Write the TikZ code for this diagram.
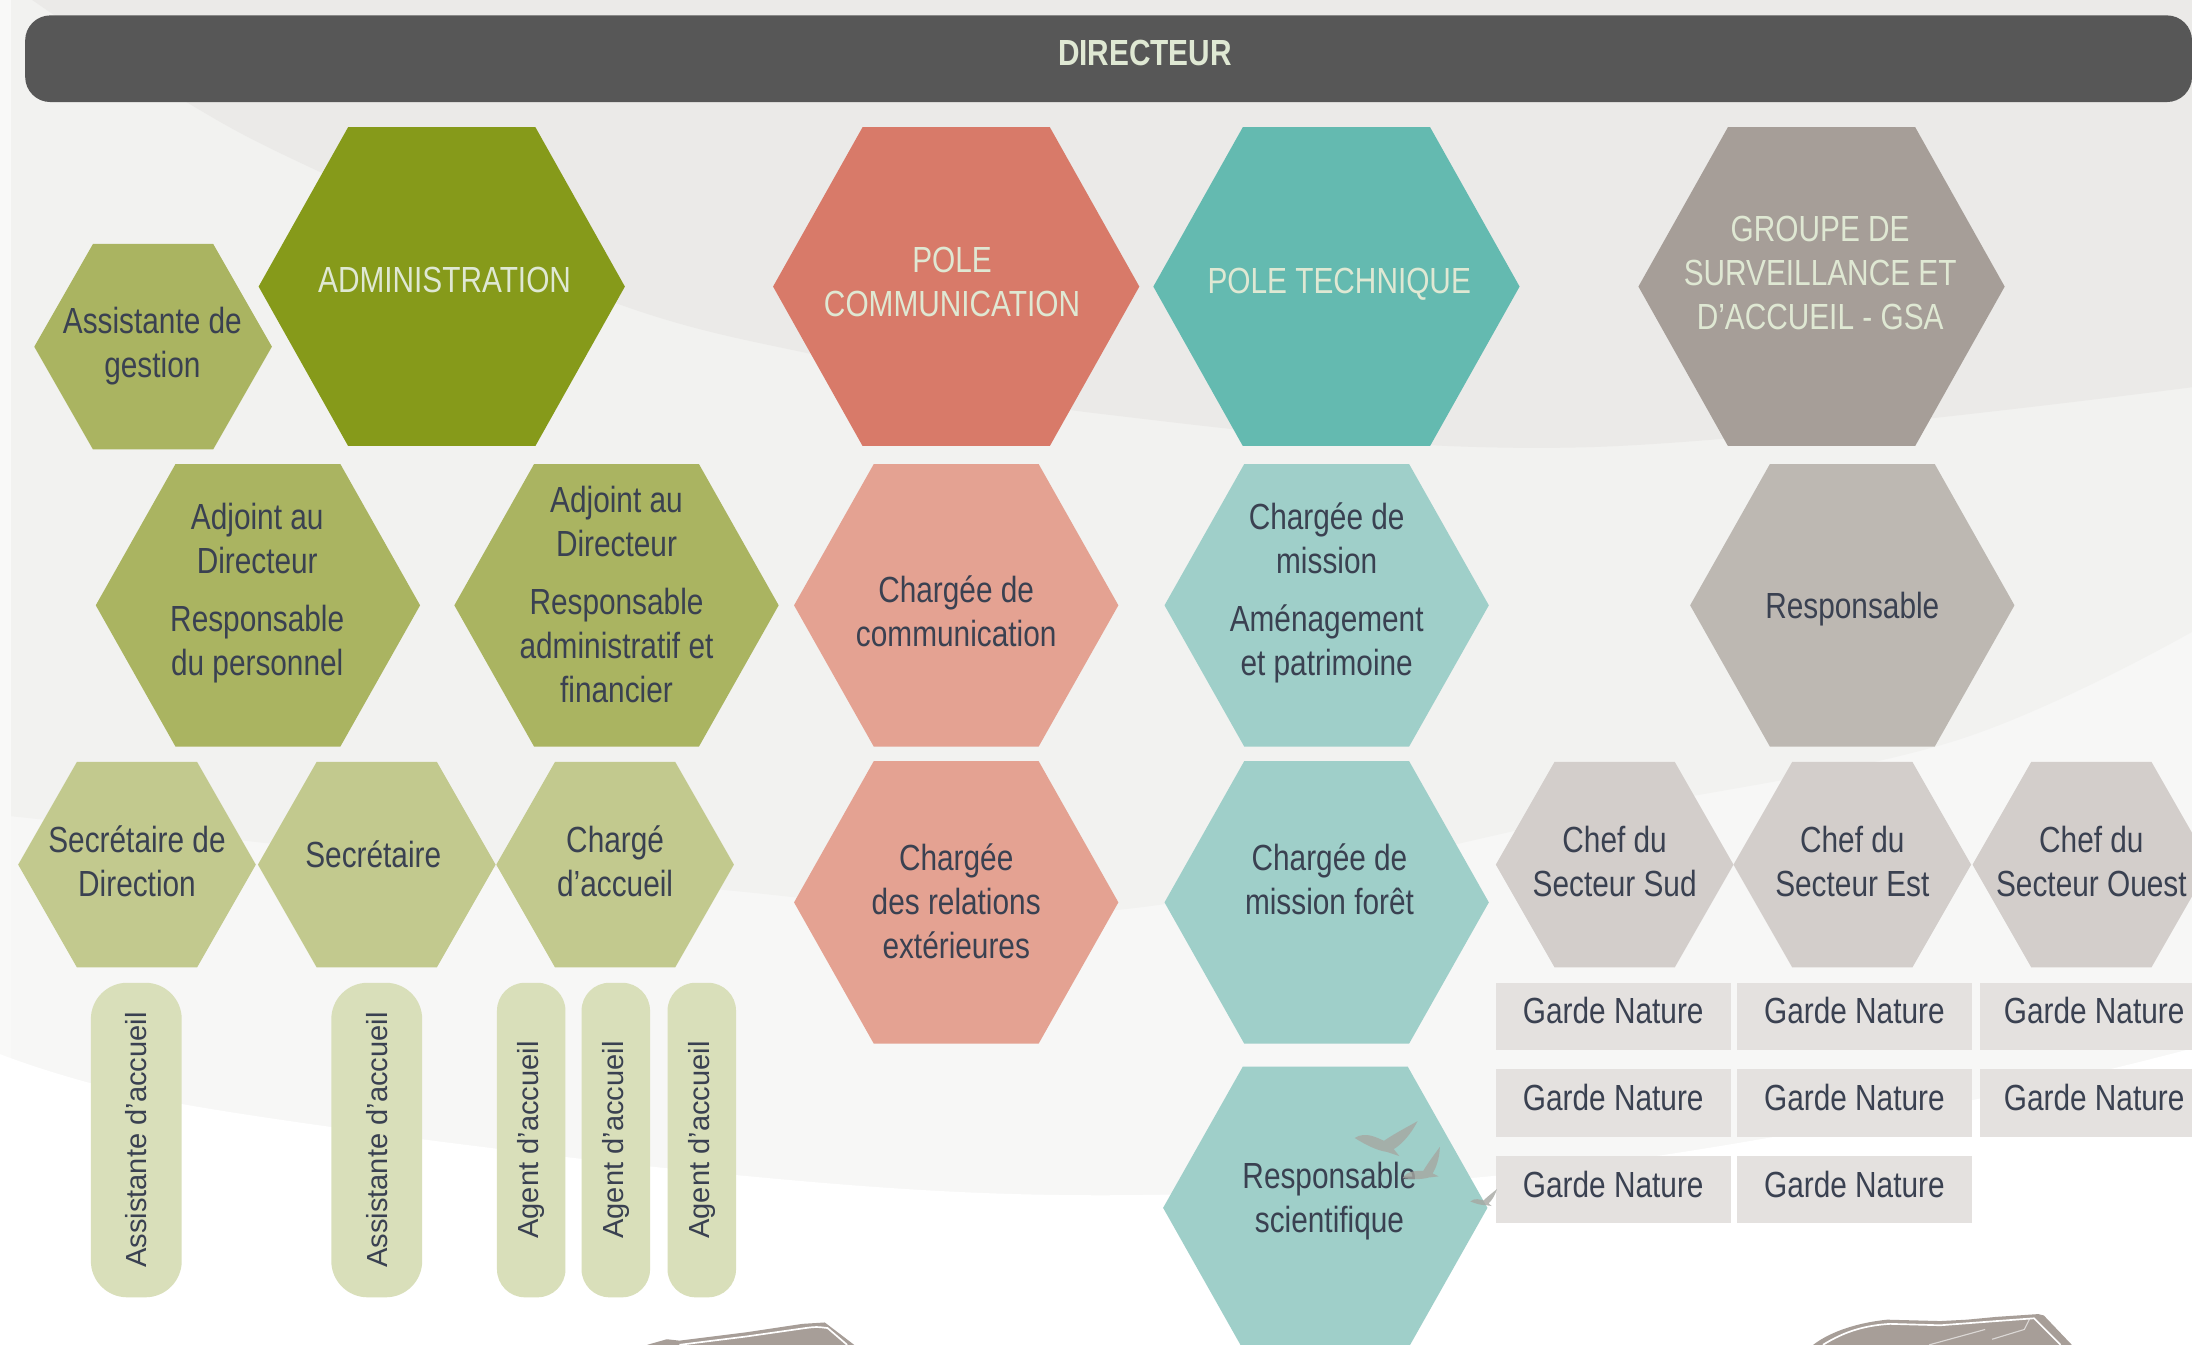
\documentclass[tikz,border=0pt]{standalone}
\usepackage{fontspec}
\setmainfont{Liberation Sans}[FakeStretch=0.82]
\newfontfamily\widesans{Liberation Sans}
\newcommand\hxfont{\fontsize{13}{15.75}\selectfont}
\newcommand\pillfont{\widesans\fontsize{10.4}{12}\selectfont}

% background bands
\definecolor{bgmid}{HTML}{F2F2F0}
\definecolor{bgdark}{HTML}{EBEAE8}
\definecolor{bglight}{HTML}{F7F7F6}
\definecolor{bgedge}{HTML}{F9F9F8}
% boxes
\definecolor{barcol}{HTML}{575757}
\definecolor{paletext}{HTML}{DFE8D3}
\definecolor{ink}{HTML}{3A4151}
\definecolor{olive}{HTML}{869A1A}
\definecolor{oliveM}{HTML}{AAB461}
\definecolor{oliveL}{HTML}{C2C98E}
\definecolor{olivePill}{HTML}{D9DFBA}
\definecolor{coral}{HTML}{D87A69}
\definecolor{coralL}{HTML}{E4A292}
\definecolor{teal}{HTML}{64BAB0}
\definecolor{tealL}{HTML}{9FCFC9}
\definecolor{taupe}{HTML}{A69E98}
\definecolor{taupeM}{HTML}{BDB8B2}
\definecolor{taupeL}{HTML}{D3CECB}
\definecolor{taupeBox}{HTML}{E4E1DF}
\definecolor{rockcol}{HTML}{A79E98}
\definecolor{birdcol}{HTML}{A6A7A2}

% hexagon with pointed left/right ends: cx, cy, fill, half width, half height, slant
\newcommand\hexshape[6]{%
  \fill[#3] ({#1-#4},{#2}) -- ({#1-#4+#6},{#2-#5}) -- ({#1+#4-#6},{#2-#5})
    -- ({#1+#4},{#2}) -- ({#1+#4-#6},{#2+#5}) -- ({#1-#4+#6},{#2+#5}) -- cycle;}
\newcommand\hexL[3]{\hexshape{#1}{#2}{#3}{131}{114}{64}}
\newcommand\hexM[3]{\hexshape{#1}{#2}{#3}{116}{101}{57}}
\newcommand\hexS[3]{\hexshape{#1}{#2}{#3}{85}{73.5}{42}}

% small gull silhouette
\newcommand\gull[4]{%
  \fill[birdcol, opacity=0.8, shift={(#1,#2)}, scale=#3, rotate=#4]
    (0,10) .. controls (8,5) and (16,10) .. (21,12)
    .. controls (30,6) and (38,2) .. (45,-2)
    .. controls (40,8) and (33,15) .. (28,18) -- (32,23) -- (23,20)
    .. controls (16,19) and (8,15) .. (0,10) -- cycle;}

\begin{document}
\begin{tikzpicture}[x=0.5pt,y=-0.5pt,
  lbl/.style={font=\hxfont, text=ink, align=center, inner sep=0pt},
  lbllight/.style={lbl, text=paletext},
  gbox/.style={fill=taupeBox, minimum width=84pt, minimum height=24pt,
    inner sep=0pt, text depth=4pt, font=\hxfont, text=ink},
  pill/.style={fill=olivePill, rotate=90, minimum width=112.5pt,
    inner sep=0pt, font=\pillfont, text=ink},
  widepill/.style={pill, minimum height=32.5pt, rounded corners=13pt},
  narrowpill/.style={pill, minimum height=24.5pt, rounded corners=10pt}]

\useasboundingbox (0,0) rectangle (1568,962);

% ---- background
\fill[bglight] (0,0) rectangle (1568,962);
\fill[bgmid] plot[smooth, tension=0.6] coordinates
  {(0,583) (143,598) (500,635) (787,652) (1132,584) (1395,531) (1568,452)}
  -- (1568,0) -- (0,0) -- cycle;
\fill[bgdark] plot[smooth, tension=0.6] coordinates
  {(23,0) (135,74) (231,124) (441,217) (602,258) (787,296) (1132,320) (1568,277)}
  -- (1568,0) -- cycle;
\fill[bgedge] (0,0) rectangle (8,760);
\fill[white] plot[smooth, tension=0.6] coordinates
  {(0,754) (143,792) (500,838) (787,855) (1100,838) (1395,790) (1568,750)}
  -- (1568,962) -- (0,962) -- cycle;

% ---- director bar
\fill[barcol, rounded corners=9pt] (18,11) rectangle (1568,73);
\node[lbllight, font=\hxfont\bfseries] (dir) at (819,38) {DIRECTEUR};

% ---- first row: poles
\hexS{109.5}{248}{oliveM}
\node[lbl] (asg) at (109,247.5) {Assistante de\\gestion};
\hexL{316}{205}{olive}
\node[lbllight] (admin) at (318,200) {ADMINISTRATION};
\hexL{684}{205}{coral}
\node[lbllight] (pcom) at (681,201.5) {POLE\\COMMUNICATION};
\hexL{956}{205}{teal}
\node[lbllight] (ptech) at (958,203) {POLE TECHNIQUE};
\hexL{1303}{205}{taupe}
\node[lbllight] (gsa) at (1302,195) {GROUPE DE\\SURVEILLANCE ET\\D’ACCUEIL - GSA};

% ---- second row
\hexM{184.5}{433}{oliveM}
\node[lbl] (adj1) at (184,424) {Adjoint au\\Directeur\\[5pt]Responsable\\du personnel};
\hexM{441}{433}{oliveM}
\node[lbl] (adj2) at (441,425) {Adjoint au\\Directeur\\[5pt]Responsable\\administratif et\\financier};
\hexM{684}{433}{coralL}
\node[lbl] (ccom) at (684,437) {Chargée de\\communication};
\hexM{949}{433}{tealL}
\node[lbl] (cmis) at (949,424) {Chargée de\\mission\\[5pt]Aménagement\\et patrimoine};
\hexM{1325}{433}{taupeM}
\node[lbl] (resp) at (1325,436) {Responsable};

% ---- third row
\hexS{98}{618.5}{oliveL}
\node[lbl] (secd) at (98,616) {Secrétaire de\\Direction};
\hexS{269.5}{618.5}{oliveL}
\node[lbl] (sec) at (267,611) {Secrétaire};
\hexS{440}{618.5}{oliveL}
\node[lbl] (cacc) at (440,616) {Chargé\\d’accueil};
\hexM{684}{645.5}{coralL}
\node[lbl] (crel) at (684,645) {Chargée\\des relations\\extérieures};
\hexM{949}{645.5}{tealL}
\node[lbl] (cfor) at (951,629) {Chargée de\\mission forêt};
\hexM{948}{864}{tealL}
\node[lbl] (rsci) at (951,859) {Responsable\\scientifique};
\hexS{1155}{618.5}{taupeL}
\node[lbl] (csud) at (1155,616) {Chef du\\Secteur Sud};
\hexS{1325}{618.5}{taupeL}
\node[lbl] (cest) at (1325,616) {Chef du\\Secteur Est};
\hexS{1496}{618.5}{taupeL}
\node[lbl] (cwest) at (1496,616) {Chef du\\Secteur Ouest};

% ---- reception staff
\node[widepill] (aa1) at (97.5,815.5) {Assistante d’accueil};
\node[widepill] (aa2) at (269.5,815.5) {Assistante d’accueil};
\node[narrowpill] (ag1) at (380,815.5) {Agent d’accueil};
\node[narrowpill] (ag2) at (440.5,815.5) {Agent d’accueil};
\node[narrowpill] (ag3) at (502,815.5) {Agent d’accueil};

% ---- rangers
\node[gbox] (gs1) at (1154,727) {Garde Nature};
\node[gbox] (gs2) at (1154,789) {Garde Nature};
\node[gbox] (gs3) at (1154,851) {Garde Nature};
\node[gbox] (ge1) at (1326.5,727) {Garde Nature};
\node[gbox] (ge2) at (1326.5,789) {Garde Nature};
\node[gbox] (ge3) at (1326.5,851) {Garde Nature};
\node[gbox, minimum width=82pt] (gw1) at (1498,727) {Garde Nature};
\node[gbox, minimum width=82pt] (gw2) at (1498,789) {Garde Nature};

% ---- gulls
\gull{969}{804}{1}{0}
\gull{1000}{836}{0.75}{25}
\gull{1051}{855}{0.45}{10}

% ---- rocks along the lower edge
\fill[rockcol] (463,962) -- (477,958) -- (486,959) .. controls (510,956) .. (534,953)
  -- (574,947) .. controls (582,946) .. (590,946) -- (611,962) -- cycle;
\draw[white, line width=0.6pt] (486,962) -- (534,956) -- (576,950)
  .. controls (584,949) .. (592,950) -- (606,962);
\fill[rockcol] (1297,962) .. controls (1310,952) and (1330,946) .. (1350,944)
  -- (1388,945) -- (1407,944) -- (1428,942) -- (1458,940) -- (1462,941)
  -- (1482,962) -- cycle;
\draw[white, line width=0.6pt] (1304,962) .. controls (1320,952) and (1335,948) .. (1352,947)
  -- (1388,948) -- (1428,945) -- (1455,943) -- (1474,962);
\draw[white, opacity=0.6, line width=0.4pt] (1380,962) -- (1420,951);
\draw[white, opacity=0.6, line width=0.4pt] (1425,958) -- (1448,951) -- (1452,943);
\end{tikzpicture}
\end{document}
